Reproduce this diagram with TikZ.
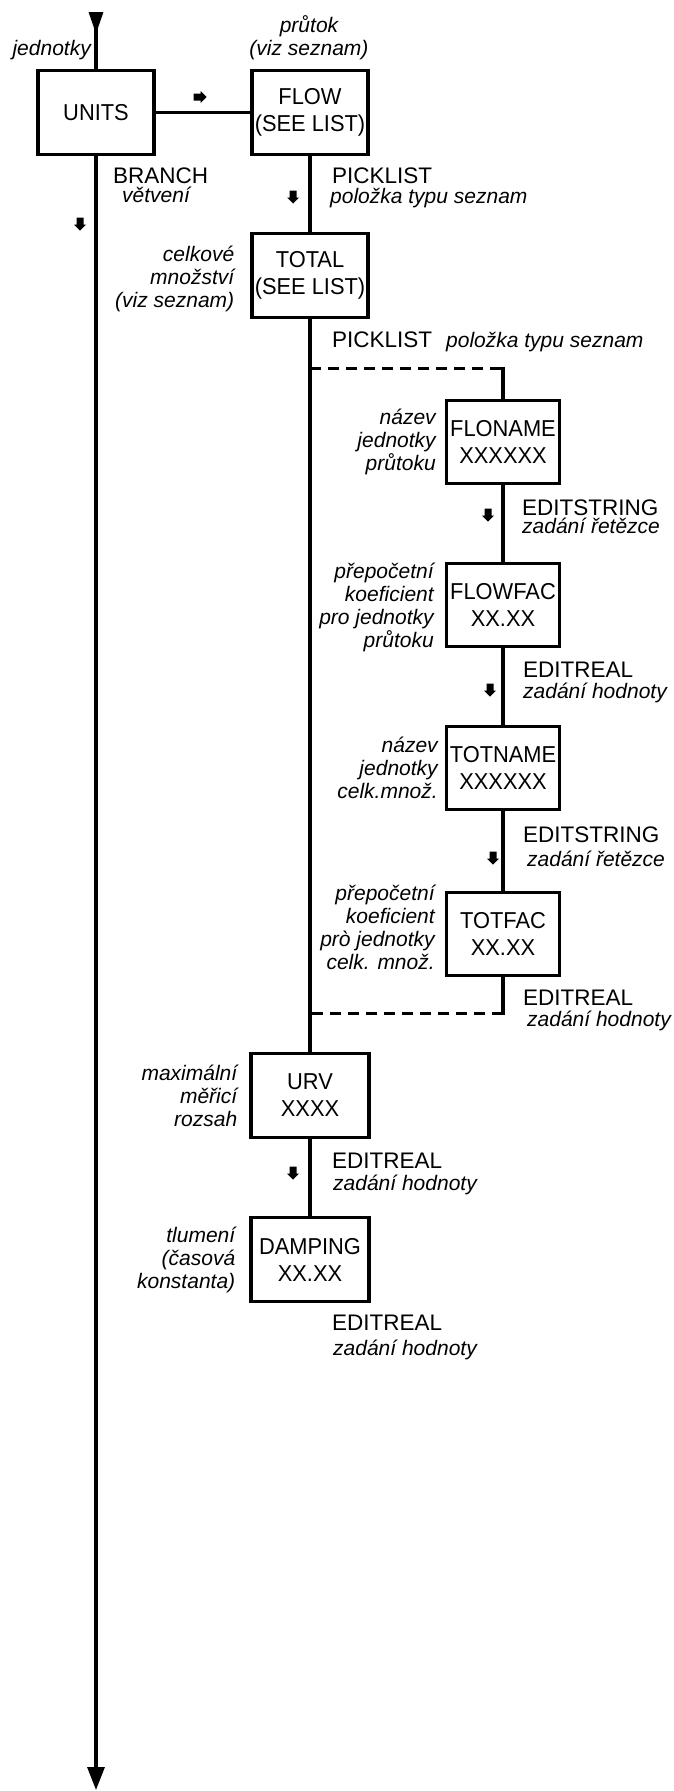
\documentclass[tikz,border=0pt]{standalone}
\usepackage{fontspec}
\setmainfont{Liberation Sans}
\newfontfamily\boxfont[FakeStretch=0.95]{Liberation Sans}
\usetikzlibrary{arrows.meta,positioning}

\begin{document}
\begin{tikzpicture}[x=1pt, y=1pt, node distance=164pt,
    % menu boxes and labels
    block/.style={rectangle, draw, line width=3.2pt, minimum width=116pt, minimum height=84pt, inner sep=0pt, align=center, font={\boxfont\fontsize{23}{27}\selectfont}},
    subblock/.style={block, minimum width=113pt, minimum height=83pt},
    note/.style={align=right, inner sep=0pt, font={\fontsize{21}{23}\selectfont\itshape}},
    cmd/.style={anchor=base west, inner sep=0pt, font={\fontsize{22.5}{27}\selectfont}},
    subcmd/.style={anchor=base west, inner sep=0pt, font={\fontsize{21}{23}\selectfont\itshape}},
    line/.style={draw, line width=3.2pt},
    dashline/.style={draw, line width=3pt, dash pattern=on 11pt off 7pt},
    dirarrow/.pic={\fill (-3.5,6.5) -- (3.5,6.5) -- (3.5,-0.5) -- (6,-0.5) -- (0,-6.5) -- (-6,-0.5) -- (-3.5,-0.5) -- cycle;}]

    \useasboundingbox (0,0) rectangle (674,-1791);

    % Main branch: UNITS
    \node [block] (units) at (96,-112.5) {UNITS};
    \node [note, anchor=base east] (units-l) at (91,-55) {jednotky};

    % FLOW and TOTAL
    \node [block, right of=units, node distance=214pt] (flow) {FLOW\\(SEE LIST)};
    \node [note, align=center] (flow-l) at (309,-38) {průtok\\(viz seznam)};
    \node [block, below of=flow, node distance=163pt] (total) {TOTAL\\(SEE LIST)};
    \node [note, left=16pt of total, yshift=-3pt] (total-l) {celkové\\množství\\(viz seznam)};

    % Sub menu behind TOTAL
    \node [subblock] (floname) at (503,-442) {FLONAME\\XXXXXX};
    \node [note, left=9pt of floname] (floname-l) {název\\jednotky\\průtoku};
    \node [subblock, below of=floname, node distance=163pt] (flowfac) {FLOWFAC\\XX.XX};
    \node [note, left=11pt of flowfac, yshift=-2pt] (flowfac-l) {přepočetní\\koeficient\\pro jednotky\\průtoku};
    \node [subblock, below of=flowfac, node distance=163pt] (totname) {TOTNAME\\XXXXXX};
    \node [note, left=7pt of totname] (totname-l) {název\\jednotky\\celk.množ.};
    \node [subblock, below of=totname, node distance=166pt] (totfac) {TOTFAC\\XX.XX};
    \node [note, left=10pt of totfac, yshift=7pt] (totfac-l) {přepočetní\\koeficient\\prò jednotky\\celk. množ.};

    % URV and DAMPING
    \node [block, minimum width=118pt, below of=total, node distance=820pt] (urv) {URV\\XXXX};
    \node [note, left=12pt of urv] (urv-l) {maximální\\měřicí\\rozsah};
    \node [block, minimum width=118pt, below of=urv] (damping) {DAMPING\\XX.XX};
    \node [note, left=14pt of damping] (damping-l) {tlumení\\(časová\\konstanta)};

    % Edit types
    \node [cmd] (branch) at (113,-183) {BRANCH};
    \node [subcmd] (branch-s) at (122,-202) {větvení};
    \node [cmd] (pick1) at (332,-183) {PICKLIST};
    \node [subcmd] (pick1-s) at (330,-203) {položka typu seznam};
    \node [cmd] (pick2) at (332,-347) {PICKLIST};
    \node [subcmd] (pick2-s) at (446,-347) {položka typu seznam};
    \node [cmd] (str1) at (522,-515) {EDITSTRING};
    \node [subcmd] (str1-s) at (522,-533) {zadání řetězce};
    \node [cmd] (real1) at (523,-677) {EDITREAL};
    \node [subcmd] (real1-s) at (523,-698) {zadání hodnoty};
    \node [cmd] (str2) at (523,-842) {EDITSTRING};
    \node [subcmd] (str2-s) at (527,-866) {zadání řetězce};
    \node [cmd] (real2) at (523,-1005) {EDITREAL};
    \node [subcmd] (real2-s) at (527,-1026) {zadání hodnoty};
    \node [cmd] (real3) at (332,-1168) {EDITREAL};
    \node [subcmd] (real3-s) at (333,-1190) {zadání hodnoty};
    \node [cmd] (real4) at (332,-1330) {EDITREAL};
    \node [subcmd] (real4-s) at (333,-1355) {zadání hodnoty};

    % Direction marks
    \pic [rotate=90] (mk1) at (200,-97) {dirarrow};
    \pic (mk2) at (80,-224) {dirarrow};
    \pic (mk3) at (293,-197) {dirarrow};
    \pic (mk4) at (488,-515) {dirarrow};
    \pic (mk5) at (490,-690) {dirarrow};
    \pic (mk6) at (493,-858) {dirarrow};
    \pic (mk7) at (293,-1173) {dirarrow};

    % Edges
    \coordinate (top) at (96,-12);
    \coordinate (bottom) at (96,-1790);
    \path [line, {Triangle[reversed,width=14pt,length=22pt]}-] (top) -- (units);
    \path [line, -{Triangle[width=17pt,length=23pt]}] (units) -- (bottom);
    \path [line] (units) -- (flow);
    \path [line] (flow) -- (total);
    \path [line] (total) -- (urv);
    \path [line] (urv) -- (damping);
    \path [line] (floname) -- (flowfac);
    \path [line] (flowfac) -- (totname);
    \path [line] (totname) -- (totfac);

    % Dashed loop of the sub menu
    \coordinate (dtop) at (total.south |- 0,-368);
    \coordinate (dbot) at (total.south |- 0,-1013);
    \coordinate (dtopr) at (dtop -| floname);
    \coordinate (dbotr) at (dbot -| totfac);
    \path [dashline] (dtop) -- (dtopr);
    \path [line] ([yshift=1.5pt]dtopr) -- (floname);
    \path [line] (totfac) -- ([yshift=-1.5pt]dbotr);
    \path [dashline] (dbotr) -- (dbot);

\end{tikzpicture}
\end{document}
